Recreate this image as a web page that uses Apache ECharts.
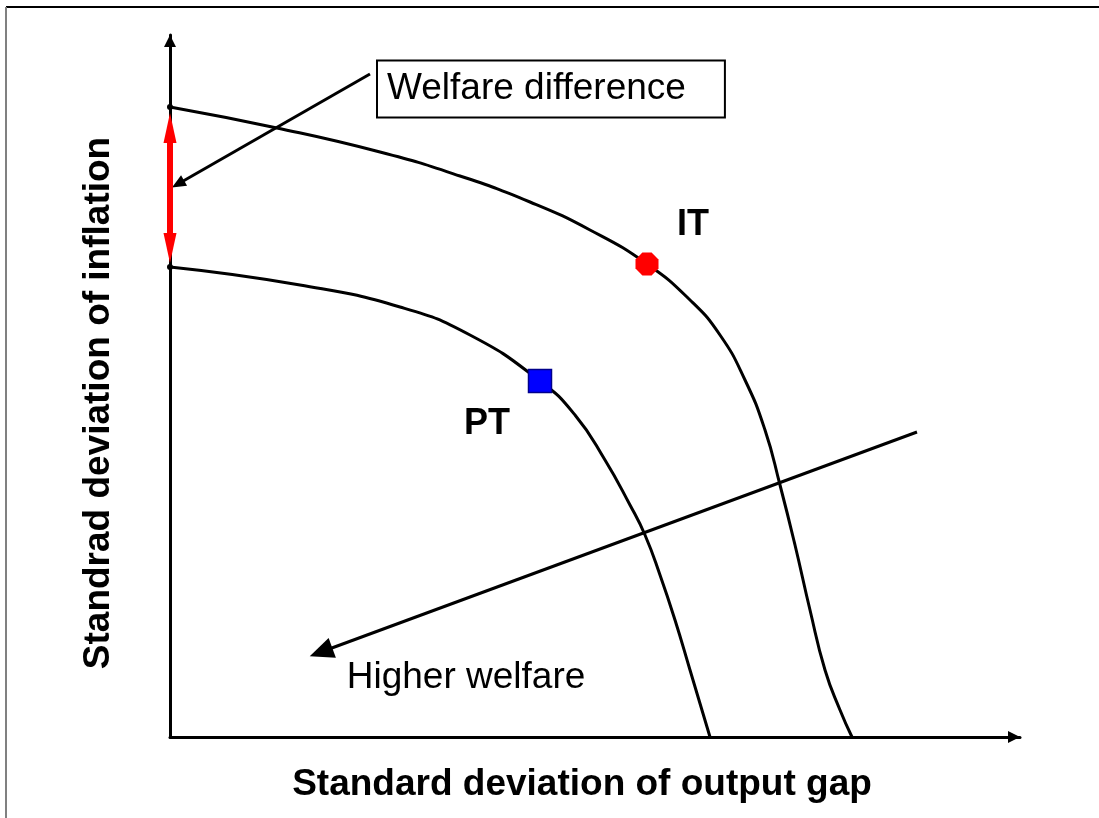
<!DOCTYPE html>
<html>
<head>
<meta charset="utf-8">
<script src="https://cdn.jsdelivr.net/npm/echarts@6/dist/echarts.min.js"></script>
<style>html,body{margin:0;padding:0;background:#fff}#c{width:1099px;height:818px}</style>
</head>
<body>
<div id="c"></div>
<script>
// Coordinates in abstract units (x: 0..850, y: 0..702)
const itCurve = [[0,630],[107,609],[210,585],[290,561],[360,535],[420,507],[477,473],[520,437],[550,402],[575,357],[595,307],[610,252],[625,192],[640,127],[655,67],[670,27],[682,0]];
const ptCurve = [[0,470],[130,452],[230,430],[300,402],[370,356],[405,322],[435,277],[460,232],[475,202],[490,162],[505,117],[520,67],[540,0]];
const itPoint = [[477,473]];
const ptPoint = [[370,356]];
// arrow segments (end points at the centre of each arrow head)
const higherWelfareArrow = [[747,305],[151,85]];
const welfareDiffArrow = [[200,663],[8,553]];
const welfareDiffBar = [[0,609],[0,489]];
const labelIT = [[523,512]];
const labelPT = [[317,313]];
const labelHigher = [[296,59]];
const labelWelfare = [[208,648]];

const FONT = 'Liberation Sans, Arial, sans-serif';
const TRI = 'path://M50,0 L100,100 L0,100 Z';
const chart = echarts.init(document.getElementById('c'));
chart.setOption({
  animation: false,
  backgroundColor: '#fff',
  graphic: [
    {type:'line', shape:{x1:6,y1:7,x2:1099,y2:7}, style:{stroke:'#000', lineWidth:2}},
    {type:'line', shape:{x1:6,y1:7,x2:6,y2:818}, style:{stroke:'#808080', lineWidth:2}}
  ],
  grid: {left:170, right:79, top:35, bottom:81, containLabel:false},
  xAxis: {
    type:'value', min:0, max:850,
    name:'Standard deviation of output gap', nameLocation:'middle', nameGap:29,
    nameTextStyle:{fontFamily:FONT, fontSize:37, fontWeight:'bold', color:'#000', padding:[0,26,0,0]},
    axisLine:{show:true, lineStyle:{color:'#000', width:3}, symbol:['none',TRI], symbolSize:[12,12], symbolOffset:[0,-6]},
    axisTick:{show:false}, axisLabel:{show:false}, splitLine:{show:false}
  },
  yAxis: {
    type:'value', min:0, max:702,
    name:'Standrad deviation of inflation', nameLocation:'middle', nameGap:53,
    nameTextStyle:{fontFamily:FONT, fontSize:37, fontWeight:'bold', color:'#000', padding:[0,34,0,0]},
    axisLine:{show:true, lineStyle:{color:'#000', width:3}, symbol:['none',TRI], symbolSize:[12,12], symbolOffset:[0,-6]},
    axisTick:{show:false}, axisLabel:{show:false}, splitLine:{show:false}
  },
  series: [
    {type:'line', data:itCurve, smooth:true, showSymbol:false, lineStyle:{color:'#000', width:3}, z:3},
    {type:'line', data:ptCurve, smooth:true, showSymbol:false, lineStyle:{color:'#000', width:3}, z:3},
    {type:'scatter', data:[itCurve[0], ptCurve[0]], symbol:'circle', symbolSize:6, itemStyle:{color:'#000', opacity:1}, z:4},
    {type:'lines', coordinateSystem:'cartesian2d', polyline:false, clip:false,
      symbol:['none',TRI], symbolSize:[[21,24],[21,24]],
      lineStyle:{color:'#000', width:3, opacity:1},
      data:[{coords:higherWelfareArrow}], z:4},
    {type:'lines', coordinateSystem:'cartesian2d', polyline:false, clip:false,
      symbol:['none',TRI], symbolSize:[[12,14],[12,14]],
      lineStyle:{color:'#000', width:3, opacity:1},
      data:[{coords:welfareDiffArrow}], z:4},
    {type:'lines', coordinateSystem:'cartesian2d', polyline:false, clip:false,
      symbol:[TRI,TRI], symbolSize:[[13,30],[13,30]],
      lineStyle:{color:'#ff0000', width:6, opacity:1}, itemStyle:{color:'#ff0000'},
      data:[{coords:welfareDiffBar}], z:5},
    {type:'scatter', data:itPoint, symbol:'path://M30,0 L70,0 L100,30 L100,70 L70,100 L30,100 L0,70 L0,30 Z', symbolSize:23,
      itemStyle:{color:'#ff0000', opacity:1}, z:6},
    {type:'scatter', data:ptPoint, symbol:'rect', symbolSize:23,
      itemStyle:{color:'#0000ff', borderColor:'#00008b', borderWidth:1.5, opacity:1}, z:6},
    {type:'scatter', data:labelIT, symbolSize:0, silent:true, itemStyle:{opacity:1},
      label:{show:true, position:'inside', formatter:'IT', fontFamily:FONT, fontSize:36, fontWeight:'bold', color:'#000'}},
    {type:'scatter', data:labelPT, symbolSize:0, silent:true, itemStyle:{opacity:1},
      label:{show:true, position:'inside', formatter:'PT', fontFamily:FONT, fontSize:36, fontWeight:'bold', color:'#000'}},
    {type:'scatter', data:labelHigher, symbolSize:0, silent:true, itemStyle:{opacity:1},
      label:{show:true, position:'inside', formatter:'Higher welfare', fontFamily:FONT, fontSize:37, color:'#000'}},
    {type:'scatter', data:labelWelfare, symbolSize:0, silent:true, itemStyle:{opacity:1},
      label:{show:true, position:'inside', align:'left', verticalAlign:'middle', formatter:'Welfare difference',
        fontFamily:FONT, fontSize:37, color:'#000', backgroundColor:'#fff', borderColor:'#000', borderWidth:2,
        padding:[9,38,9,9]}, z:7}
  ]
});
</script>
</body>
</html>
